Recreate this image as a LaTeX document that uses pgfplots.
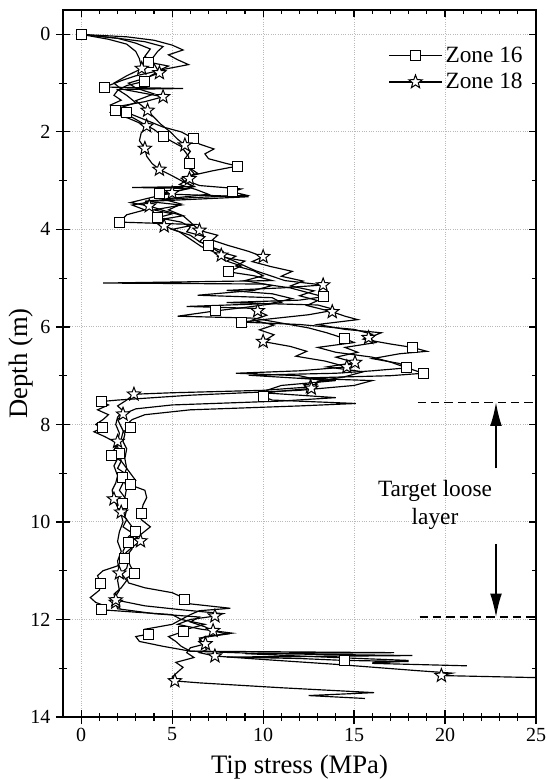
\documentclass[border=0pt]{standalone}
\usepackage{pgfplots}
\pgfplotsset{compat=1.18}
\usepackage{pgfplotstable}
\usepackage{fontspec}
\setmainfont{Liberation Serif}
\usetikzlibrary{arrows.meta}

% five-pointed open star
\pgfdeclareplotmark{pstar}{%
  \pgfpathmoveto{\pgfpointpolar{90}{\pgfplotmarksize}}%
  \pgfpathlineto{\pgfpointpolar{126}{0.42\pgfplotmarksize}}%
  \pgfpathlineto{\pgfpointpolar{162}{\pgfplotmarksize}}%
  \pgfpathlineto{\pgfpointpolar{198}{0.42\pgfplotmarksize}}%
  \pgfpathlineto{\pgfpointpolar{234}{\pgfplotmarksize}}%
  \pgfpathlineto{\pgfpointpolar{270}{0.42\pgfplotmarksize}}%
  \pgfpathlineto{\pgfpointpolar{306}{\pgfplotmarksize}}%
  \pgfpathlineto{\pgfpointpolar{342}{0.42\pgfplotmarksize}}%
  \pgfpathlineto{\pgfpointpolar{18}{\pgfplotmarksize}}%
  \pgfpathlineto{\pgfpointpolar{54}{0.42\pgfplotmarksize}}%
  \pgfpathclose
  \pgfusepathqfillstroke}

% columns: q = tip stress (MPa), d = depth (m), m = 1 where a marker is drawn
\pgfplotstableread{
q d m
0.0 0.00 1
2.0 0.08 0
3.5 0.15 0
4.5 0.25 0
4.2 0.35 0
4.0 0.45 0
3.7 0.57 1
4.8 0.65 0
4.2 0.75 0
3.0 0.85 0
2.2 0.95 0
1.3 1.08 1
5.6 1.11 0
2.0 1.13 0
2.5 1.25 0
3.0 1.40 0
2.2 1.50 0
2.5 1.60 1
3.5 1.75 0
4.5 1.90 0
5.5 2.00 0
6.15 2.13 1
6.5 2.25 0
7.3 2.35 0
6.8 2.45 0
7.0 2.55 0
8.0 2.65 0
8.6 2.70 1
7.2 2.80 0
6.0 2.90 0
5.8 3.00 0
6.5 3.10 0
8.8 3.17 0
8.3 3.23 1
9.1 3.30 0
6.0 3.35 0
3.5 3.42 0
5.5 3.50 0
4.0 3.60 0
5.0 3.68 0
4.2 3.76 1
5.5 3.85 0
6.0 3.95 0
5.8 4.05 0
6.8 4.15 0
6.5 4.25 0
7.0 4.32 1
7.5 4.45 0
8.5 4.55 0
8.0 4.65 0
8.8 4.75 0
8.1 4.87 1
9.5 4.95 0
10.5 5.05 0
1.2 5.10 0
10.0 5.12 0
11.5 5.20 0
12.5 5.30 0
13.3 5.38 1
12.0 5.45 0
8.0 5.50 0
13.0 5.55 0
14.0 5.65 0
12.5 5.75 0
10.0 5.85 0
8.8 5.90 1
12.0 5.95 0
15.0 6.05 0
16.0 6.15 0
15.5 6.25 0
17.0 6.35 0
18.2 6.42 1
19.0 6.50 0
17.5 6.55 0
16.0 6.65 0
17.5 6.75 0
18.0 6.85 0
18.8 6.95 1
17.0 7.00 0
12.0 7.05 0
16.0 7.10 0
15.0 7.20 0
12.0 7.30 0
6.0 7.40 0
2.0 7.50 0
1.1 7.53 1
1.5 7.60 0
0.9 7.70 0
1.5 7.80 0
1.2 7.90 0
0.8 8.00 0
1.15 8.07 1
0.7 8.15 0
1.3 8.25 0
1.8 8.35 0
2.0 8.45 0
2.1 8.60 1
2.2 8.75 0
2.0 8.90 0
2.4 9.00 0
2.25 9.08 1
2.3 9.20 0
2.1 9.35 0
2.4 9.50 0
2.25 9.63 1
2.5 9.75 0
2.4 9.90 0
2.7 10.05 0
3.0 10.20 1
2.6 10.30 0
2.5 10.45 0
2.3 10.60 0
2.36 10.74 1
2.0 10.90 0
1.2 11.00 0
0.9 11.10 0
1.08 11.27 1
1.0 11.40 0
0.5 11.55 0
0.8 11.65 0
1.3 11.72 0
1.1 11.80 1
3.0 11.85 0
5.0 11.90 0
5.5 12.00 0
5.0 12.10 0
3.5 12.20 0
3.7 12.30 1
3.0 12.35 0
3.2 12.45 0
4.5 12.55 0
6.0 12.65 0
10.0 12.70 0
18.2 12.74 0
8.0 12.77 0
12.0 12.80 0
14.5 12.84 1
18.0 12.86 0
16.0 12.88 0
}\tA

\pgfplotstableread{
q d m
0.0 0.00 0
2.5 0.05 0
4.0 0.12 0
5.0 0.22 0
5.6 0.32 0
4.8 0.42 0
5.3 0.52 0
5.9 0.62 0
4.5 0.72 0
3.8 0.85 0
3.5 0.96 1
2.5 1.05 0
2.0 1.15 0
1.8 1.25 0
2.2 1.35 0
1.6 1.45 0
1.87 1.56 1
2.8 1.70 0
3.5 1.85 0
4.0 1.95 0
4.5 2.09 1
5.0 2.20 0
5.5 2.30 0
5.7 2.40 0
5.9 2.50 0
5.97 2.65 1
6.0 2.75 0
6.4 2.85 0
5.5 2.95 0
5.8 3.05 0
6.2 3.12 0
2.8 3.14 0
6.0 3.16 0
4.3 3.27 1
9.2 3.33 0
4.0 3.42 0
2.8 3.50 0
3.5 3.60 0
2.5 3.70 0
2.1 3.85 1
6.3 3.90 0
5.0 4.00 0
6.0 4.12 0
6.5 4.25 0
7.0 4.34 0
7.8 4.45 0
7.5 4.55 0
9.0 4.65 0
8.5 4.75 0
9.5 4.85 0
10.0 4.95 0
9.0 5.05 0
10.5 5.15 0
9.5 5.25 0
6.4 5.35 0
10.5 5.40 0
11.0 5.50 0
9.0 5.60 0
7.4 5.67 1
5.3 5.78 0
9.5 5.82 0
11.0 5.92 0
12.5 6.02 0
13.5 6.12 0
14.5 6.24 1
15.0 6.32 0
13.0 6.42 0
14.0 6.52 0
16.0 6.62 0
17.0 6.72 0
17.9 6.84 1
16.0 6.90 0
14.0 6.95 0
9.2 6.99 0
14.0 7.10 0
11.0 7.20 0
10.2 7.30 0
10.0 7.43 1
10.5 7.50 0
15.1 7.57 0
12.0 7.62 0
6.0 7.70 0
3.5 7.80 0
2.8 7.90 0
2.5 8.00 0
2.7 8.07 1
2.3 8.15 0
2.2 8.30 0
1.9 8.45 0
1.65 8.63 1
2.2 8.75 0
2.5 8.90 0
2.8 9.05 0
3.0 9.15 0
2.7 9.24 1
3.5 9.35 0
3.6 9.50 0
3.4 9.65 0
3.3 9.82 1
3.3 9.95 0
3.8 10.10 0
3.3 10.25 0
2.6 10.43 1
2.8 10.55 0
2.5 10.70 0
2.7 10.90 0
2.95 11.05 1
2.5 11.15 0
2.6 11.25 0
3.5 11.35 0
5.0 11.45 0
5.6 11.55 0
5.7 11.60 1
6.0 11.68 0
8.2 11.77 0
6.5 11.82 0
6.0 11.90 0
5.5 12.00 0
6.8 12.10 0
5.8 12.20 0
5.6 12.25 1
4.8 12.35 0
5.2 12.45 0
5.5 12.55 0
6.0 12.65 0
17.2 12.68 0
9.0 12.70 0
12.0 12.75 0
18.0 12.84 0
16.0 12.90 0
21.2 12.95 0
}\tB

\pgfplotstableread{
q d m
0.0 0.00 0
1.5 0.10 0
2.5 0.20 0
3.0 0.35 0
3.2 0.50 0
3.33 0.70 1
2.5 0.85 0
1.8 1.00 0
2.2 1.12 0
4.5 1.28 1
3.5 1.38 0
2.0 1.48 0
1.6 1.60 0
2.6 1.72 0
3.6 1.88 1
3.3 2.02 0
3.2 2.18 0
3.5 2.34 1
3.6 2.50 0
3.9 2.65 0
4.3 2.77 1
5.0 2.90 0
5.6 3.02 0
6.2 3.12 0
5.0 3.25 1
3.8 3.35 0
2.7 3.45 0
3.74 3.52 1
4.6 3.62 0
5.6 3.72 0
4.0 3.82 0
4.56 3.93 1
5.4 4.05 0
6.0 4.20 0
6.6 4.35 0
7.7 4.53 1
8.4 4.65 0
9.0 4.75 0
9.6 4.85 0
10.4 4.95 0
11.2 5.05 0
13.3 5.14 1
11.0 5.20 0
8.0 5.25 0
10.5 5.32 0
11.6 5.42 0
10.4 5.52 0
5.8 5.58 0
9.6 5.62 0
9.7 5.67 1
10.2 5.76 0
9.4 5.86 0
10.6 5.96 0
9.8 6.06 0
10.6 6.16 0
10.0 6.30 1
11.5 6.40 0
12.4 6.50 0
11.8 6.60 0
13.4 6.70 0
14.6 6.82 1
12.0 6.90 0
8.5 6.95 0
12.0 7.00 0
13.2 7.10 0
12.6 7.23 1
10.0 7.30 0
5.0 7.35 0
2.9 7.38 1
2.5 7.50 0
2.0 7.62 0
2.3 7.72 0
2.0 7.85 0
1.9 8.00 0
2.1 8.18 0
2.0 8.35 1
1.9 8.50 0
2.0 8.70 0
1.8 8.85 0
2.0 9.05 0
1.9 9.20 0
1.7 9.35 0
1.8 9.53 1
2.0 9.70 0
2.2 9.85 0
2.3 10.00 0
2.1 10.20 0
2.0 10.40 0
2.2 10.60 0
2.0 10.80 0
2.1 11.05 1
2.0 11.20 0
2.1 11.40 0
1.9 11.52 0
1.9 11.65 1
2.0 11.78 0
4.0 11.88 0
6.5 11.95 0
6.0 12.05 0
6.8 12.15 0
7.25 12.23 1
8.0 12.30 0
6.5 12.38 0
6.7 12.50 0
6.9 12.62 0
6.5 12.68 0
7.35 12.75 1
10.0 12.82 0
14.0 12.92 0
18.5 13.05 0
20.4 13.10 0
19.8 13.15 1
26.0 13.20 0
}\tC

\pgfplotstableread{
q d m
0.0 0.00 0
2.0 0.08 0
3.0 0.18 0
3.8 0.30 0
3.5 0.45 0
4.0 0.60 0
4.3 0.79 1
3.5 0.90 0
2.6 1.00 0
3.0 1.10 0
4.0 1.22 0
3.0 1.36 0
3.65 1.56 1
4.0 1.70 0
4.4 1.85 0
4.9 2.00 0
5.3 2.15 0
5.7 2.27 1
6.0 2.40 0
5.7 2.55 0
5.8 2.70 0
6.2 2.85 0
5.95 2.96 1
5.4 3.08 0
6.3 3.18 0
7.0 3.28 0
4.5 3.38 0
5.5 3.48 0
4.8 3.60 0
5.6 3.72 0
6.0 3.85 0
6.5 4.02 1
7.5 4.12 0
7.2 4.22 0
8.0 4.32 0
9.2 4.45 0
10.0 4.56 1
9.4 4.66 0
10.4 4.76 0
11.6 4.86 0
11.0 4.96 0
12.2 5.06 0
11.5 5.16 0
12.8 5.26 0
12.0 5.36 0
13.0 5.46 0
12.4 5.56 0
13.8 5.69 1
14.5 5.78 0
15.2 5.85 0
13.0 5.95 0
14.5 6.05 0
16.5 6.12 0
15.8 6.22 1
16.2 6.32 0
14.5 6.42 0
15.2 6.52 0
14.0 6.62 0
15.05 6.73 1
13.5 6.82 0
15.5 6.92 0
14.5 7.02 0
13.0 7.12 0
12.65 7.26 1
10.0 7.35 0
14.0 7.45 0
11.0 7.52 0
5.0 7.60 0
3.0 7.68 0
2.3 7.79 1
2.0 7.90 0
2.2 8.05 0
2.4 8.20 0
2.3 8.35 0
2.5 8.50 0
2.4 8.70 0
2.5 8.90 0
2.3 9.10 0
2.5 9.30 0
2.4 9.50 0
2.1 9.66 0
2.2 9.80 1
2.5 9.95 0
2.3 10.10 0
2.9 10.25 0
3.26 10.39 1
2.8 10.52 0
2.4 10.65 0
2.6 10.80 0
2.5 10.95 0
2.2 11.05 0
2.5 11.20 0
2.2 11.35 0
1.8 11.48 0
1.9 11.60 1
3.5 11.72 0
5.5 11.80 0
7.8 11.88 0
7.35 11.93 1
6.0 12.00 0
5.3 12.10 0
6.6 12.20 0
8.3 12.28 0
6.8 12.35 0
6.5 12.42 0
6.83 12.50 1
6.0 12.58 0
5.8 12.68 0
6.2 12.78 0
5.2 12.88 0
5.6 12.98 0
5.3 13.08 0
5.0 13.18 0
5.15 13.26 1
6.5 13.30 0
11.0 13.40 0
16.1 13.50 0
12.5 13.56 0
15.6 13.62 0
}\tD

\begin{document}
\begin{tikzpicture}
\pgfplotsset{
  frame/.style={
    scale only axis, width=283.8pt, height=424.2pt,
    xmin=-1, xmax=25, ymin=-0.5, ymax=14, y dir=reverse,
    xtick={0,5,...,25}, ytick={0,2,...,14},
    minor xtick={1,2,3,4,6,7,8,9,11,12,13,14,16,17,18,19,21,22,23,24},
    minor ytick={1,3,...,13},
    major tick length=4.2pt, minor tick length=2.4pt,
    tick style={black, line width=0.7pt},
  },
  sqmark/.style={mark=square*, mark size=3pt, mark options={fill=white, line width=0.6pt}},
  stmark/.style={mark=pstar, mark size=4.2pt, mark options={fill=white, line width=0.6pt}},
}
\begin{axis}[
  frame,
  axis line style={line width=0.9pt},
  tick align=inside,
  grid=major,
  major grid style={densely dotted, gray!55, line width=0.6pt},
  xlabel={Tip stress (MPa)},
  ylabel={Depth (m)},
  label style={font=\fontsize{16}{18}\selectfont},
  xlabel style={at={([yshift=-30pt]rel axis cs:0.5,0)}, anchor=center},
  ylabel style={at={([xshift=-25.2pt]rel axis cs:0,0.5)}, anchor=center},
  ticklabel style={font=\fontsize{12}{14}\selectfont},
  /pgf/number format/assume math mode=true,
  xticklabel style={yshift=-3pt},
  yticklabel style={xshift=-4pt},
  legend style={draw=none, fill=none, at={(rel axis cs:0.99,0.958)}, anchor=north east,
    font=\fontsize{14}{16}\selectfont, row sep=1pt},
  legend cell align=left,
  legend image code/.code={%
    \draw[mark repeat=2, mark phase=2] plot coordinates {(0cm,0cm) (0.55cm,0cm) (1.1cm,0cm)};},
  every axis plot/.append style={black, line width=0.7pt},
]
\addplot[no marks, forget plot] table[x=q, y=d] {\tA};
\addplot[no marks, forget plot] table[x=q, y=d] {\tB};
\addplot[no marks, forget plot] table[x=q, y=d] {\tC};
\addplot[no marks, forget plot] table[x=q, y=d] {\tD};
\addplot[only marks, sqmark, forget plot,
  restrict expr to domain={\thisrow{m}}{1:1}] table[x=q, y=d] {\tA};
\addplot[only marks, sqmark, forget plot,
  restrict expr to domain={\thisrow{m}}{1:1}] table[x=q, y=d] {\tB};
\addplot[only marks, stmark, forget plot,
  restrict expr to domain={\thisrow{m}}{1:1}] table[x=q, y=d] {\tC};
\addplot[only marks, stmark, forget plot,
  restrict expr to domain={\thisrow{m}}{1:1}] table[x=q, y=d] {\tD};
\addlegendimage{black, line width=0.7pt, sqmark}
\addlegendentry{Zone 16}
\addlegendimage{black, line width=0.7pt, stmark}
\addlegendentry{Zone 18}
\draw[line width=1pt, dash pattern=on 5pt off 3pt] (axis cs:18.5,7.55) -- (axis cs:25,7.55);
\draw[line width=1pt, dash pattern=on 5pt off 3pt] (axis cs:18.6,11.95) -- (axis cs:25,11.95);
\draw[line width=0.8pt, -{Latex[length=14pt, width=7pt]}] (axis cs:22.8,8.9) -- (axis cs:22.8,7.55);
\draw[line width=0.8pt, -{Latex[length=14pt, width=7pt]}] (axis cs:22.8,10.45) -- (axis cs:22.8,11.95);
\node[align=center, font=\fontsize{14}{17}\selectfont] at (axis cs:19.45,9.65) {Target loose\\layer};
\coordinate (bl) at (rel axis cs:0,0);
\coordinate (tr) at (rel axis cs:1,1);
\end{axis}
\begin{axis}[
  frame,
  axis x line*=bottom, axis y line*=left,
  axis line style={line width=0.9pt},
  tick align=outside,
  xticklabels={}, yticklabels={},
]
\addplot[draw=none] coordinates {(0,0)};
\end{axis}
\pgfresetboundingbox
\path ([shift={(-37.8pt,-37.2pt)}]bl) rectangle ([shift={(6pt,6pt)}]tr);
\end{tikzpicture}
\end{document}
